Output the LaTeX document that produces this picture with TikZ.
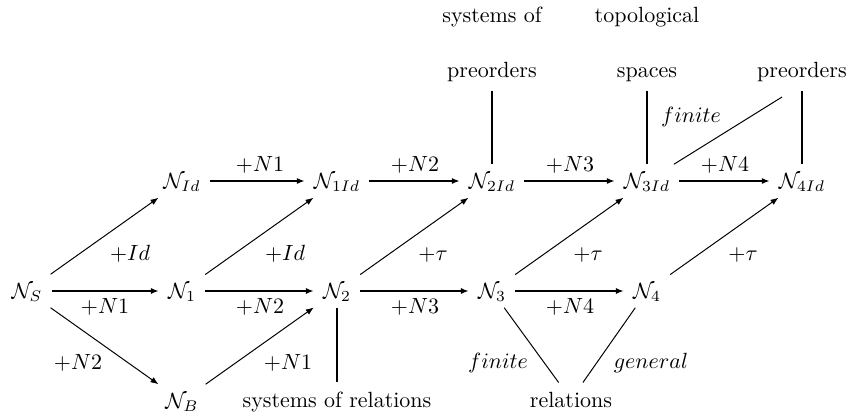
\documentclass[tikz,border=0pt]{standalone}
\usetikzlibrary{arrows.meta}
\begin{document}
\begin{tikzpicture}[x=0.4545pt,y=-0.4545pt,
  obj/.style={inner sep=4pt, text height=6.8pt, text depth=0pt},
  txt/.style={inner sep=4pt, anchor=base},
  lbl/.style={inner sep=0pt},
  harr/.style={line width=0.85pt, -{Latex[length=3.6pt,width=2.8pt]}},
  darr/.style={line width=0.45pt, -{Latex[length=3.6pt,width=2.8pt]}},
  vline/.style={line width=0.85pt},
  dline/.style={line width=0.45pt}]
\useasboundingbox (0,0) rectangle (848,414);
% main objects
\node[obj] (NS) at (27,291) {$\mathcal{N}_S$};
\node[obj] (N1) at (182,291) {$\mathcal{N}_1$};
\node[obj] (N2) at (337,291) {$\mathcal{N}_2$};
\node[obj] (N3) at (492,291) {$\mathcal{N}_3$};
\node[obj] (N4) at (647,291) {$\mathcal{N}_4$};
\node[obj] (NId) at (182,181) {$\mathcal{N}_{Id}$};
\node[obj] (N1Id) at (337,181) {$\mathcal{N}_{1Id}$};
\node[obj] (N2Id) at (492,181) {$\mathcal{N}_{2Id}$};
\node[obj] (N3Id) at (647,181) {$\mathcal{N}_{3Id}$};
\node[obj] (N4Id) at (802,181) {$\mathcal{N}_{4Id}$};
\node[obj] (NB) at (182,401) {$\mathcal{N}_B$};
% texts
\node[txt] (sys) at (492,22) {systems of};
\node[txt] (topo) at (647,22) {topological};
\node[txt] (pre2) at (492,77) {preorders};
\node[txt] (spa) at (647,77) {spaces};
\node[txt] (pre4) at (802,77) {preorders};
\node[txt] (sysrel) at (337,407) {systems of relations};
\node[txt] (rel) at (571,407) {relations};
% labels
\node[lbl] (la1) at (260,165) {$+N1$};
\node[lbl] (la2) at (415,165) {$+N2$};
\node[lbl] (la3) at (570,165) {$+N3$};
\node[lbl] (la4) at (725,165) {$+N4$};
\node[lbl] (lb1) at (105,307) {$+N1$};
\node[lbl] (lb2) at (260,307) {$+N2$};
\node[lbl] (lb3) at (415,307) {$+N3$};
\node[lbl] (lb4) at (570,307) {$+N4$};
\node[lbl] (lc1) at (130,254) {$+Id$};
\node[lbl] (lc2) at (285,254) {$+Id$};
\node[lbl] (lc3) at (433,255) {$+\tau$};
\node[lbl] (lc4) at (588,255) {$+\tau$};
\node[lbl] (lc5) at (743,255) {$+\tau$};
\node[lbl] (ld1) at (78,363) {$+N2$};
\node[lbl] (ld2) at (288,363) {$+N1$};
\node[lbl] (le1) at (498,363) {$finite$};
\node[lbl] (le2) at (651,363) {$general$};
\node[lbl] (le3) at (691,117) {$finite$};
% horizontal arrows
\draw[harr] (NS) -- (N1);
\draw[harr] (N1) -- (N2);
\draw[harr] (N2) -- (N3);
\draw[harr] (N3) -- (N4);
\draw[harr] (NId) -- (N1Id);
\draw[harr] (N1Id) -- (N2Id);
\draw[harr] (N2Id) -- (N3Id);
\draw[harr] (N3Id) -- (N4Id);
% diagonal arrows
\draw[darr] (NS) -- (NId);
\draw[darr] (N1) -- (N1Id);
\draw[darr] (N2) -- (N2Id);
\draw[darr] (N3) -- (N3Id);
\draw[darr] (N4) -- (N4Id);
\draw[darr] (NS) -- (NB);
\draw[darr] (NB) -- (N2);
% plain lines
\draw[vline] (N2) -- (sysrel);
\draw[vline] (pre2) -- (N2Id);
\draw[vline] (spa) -- (N3Id);
\draw[vline] (pre4) -- (N4Id);
\draw[dline] (N3) -- (rel);
\draw[dline] (N4) -- (rel);
\coordinate (fin) at (782,97);
\draw[dline] (N3Id) -- (fin);
\end{tikzpicture}
\end{document}
